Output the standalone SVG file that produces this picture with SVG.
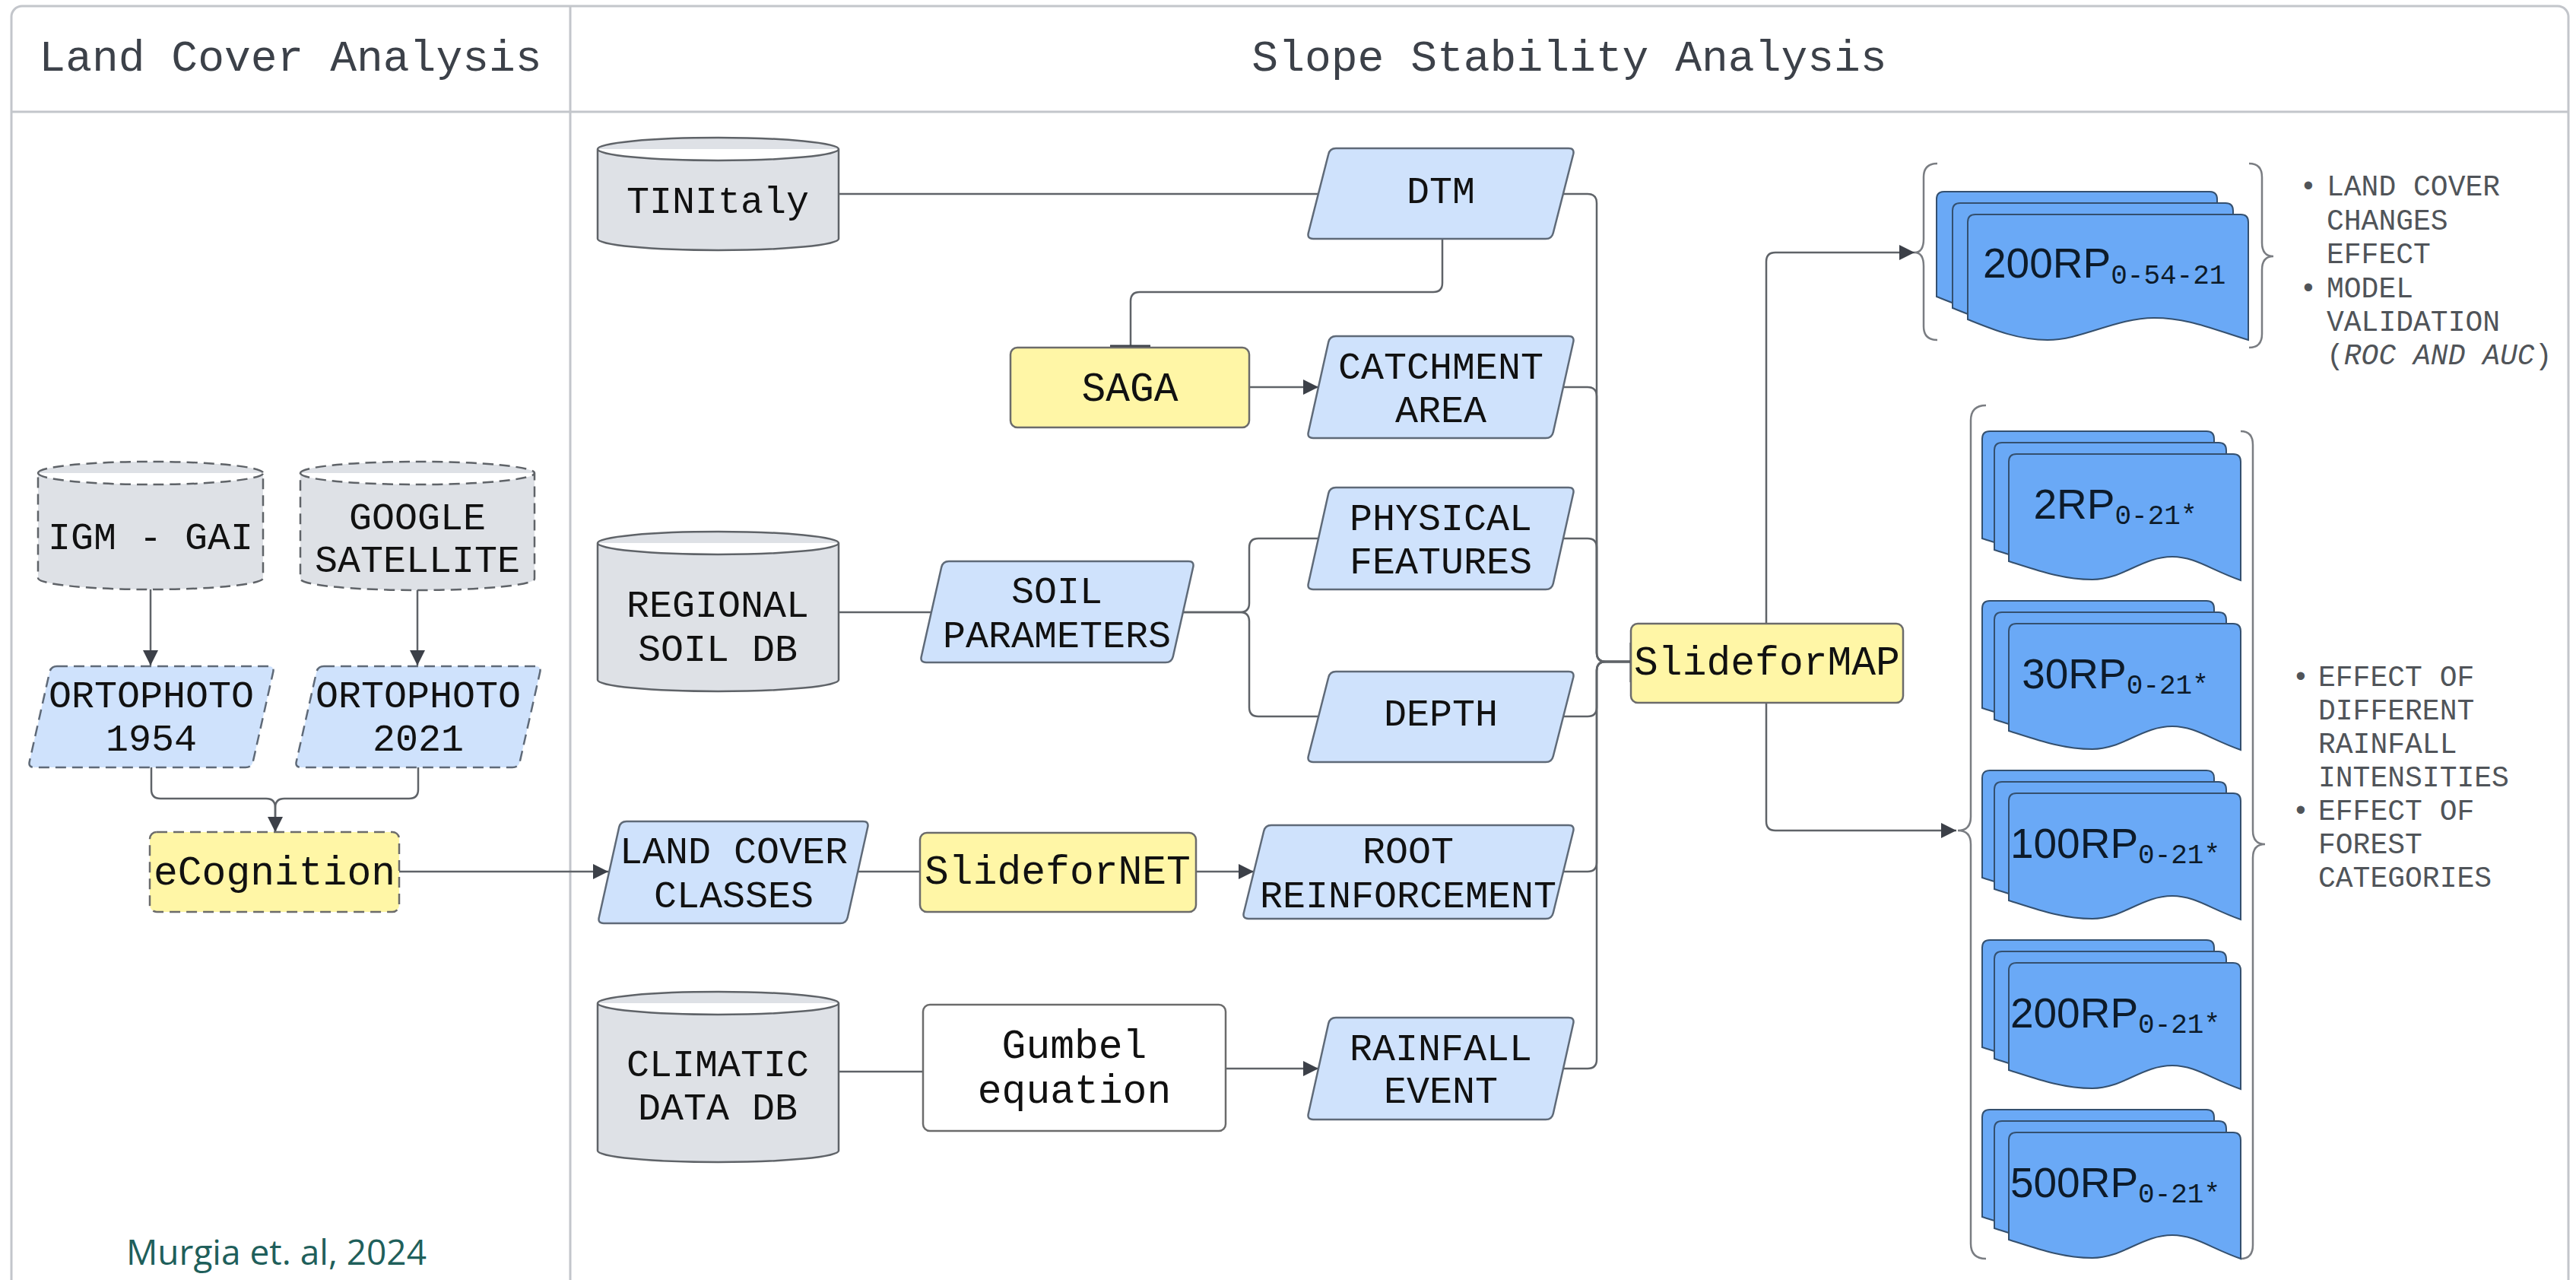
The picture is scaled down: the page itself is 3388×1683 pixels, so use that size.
<svg xmlns="http://www.w3.org/2000/svg" xmlns:xlink="http://www.w3.org/1999/xlink" width="3388" height="1683" viewBox="0 0 3388 1683">
<style>
.frame{fill:none;stroke:#c3c6cb;stroke-width:3}
.cyl{fill:#dee1e6;stroke:#5f6368;stroke-width:2.5}
.para{fill:#cfe2fc;stroke:#5f6a78;stroke-width:2.5}
.proc{fill:#fff6a6;stroke:#6b6b6b;stroke-width:2.5}
.wbox{fill:#ffffff;stroke:#6b6b6b;stroke-width:2.5}
.dash{stroke-dasharray:14 8}
.doc{fill:#6aa9f6;stroke:#34506f;stroke-width:2}
.brace{fill:none;stroke:#7a7d82;stroke-width:2.5}
.conn{fill:none;stroke:#5f6368;stroke-width:2.5}
.arr{marker-end:url(#ah)}
.bar{stroke:#3c4048;stroke-width:5}
.t{font-family:"Liberation Mono","DejaVu Sans Mono",monospace;font-size:50px;fill:#111;text-anchor:middle}
.tp{font-size:53px}
.hdr{font-family:"Liberation Mono","DejaVu Sans Mono",monospace;font-size:58px;fill:#3c4149;text-anchor:middle}
.bul{font-family:"Liberation Mono","DejaVu Sans Mono",monospace;font-size:38px;fill:#505459}
.dt{font-family:"Liberation Sans",Arial,sans-serif;font-size:55px;fill:#0d1b2a}
.sub{font-family:"Liberation Mono","DejaVu Sans Mono",monospace;font-size:36px}
.cite{font-family:"Open Sans","Noto Sans",sans-serif;font-size:46px;fill:#1f5f5b}
</style>
<defs>
<marker id="ah" viewBox="0 0 10 10" refX="10" refY="5" markerWidth="26" markerHeight="20" markerUnits="userSpaceOnUse" orient="auto"><path d="M0,0 L10,5 L0,10 z" fill="#3c4048"/></marker>
<path id="docA" d="M0,10 Q0,0 10,0 H359 Q369,0 369,10 V165 C320,150 290,136 245,136 C195,136 150,165 105,165 C65,165 30,150 0,138 Z"/>
<path id="docB" d="M0,10 Q0,0 10,0 H295 Q305,0 305,10 V166 C265,152 245,135 215,135 C175,135 150,165 110,165 C70,165 35,152 0,141 Z"/>
</defs>

<g id="frame">
<rect class="frame" x="15" y="8" width="3363" height="1720" rx="14"/>
<path class="frame" d="M15,147 H3378 M750,8 V1683"/>
<text class="hdr" x="382" y="93">Land Cover Analysis</text>
<text class="hdr" x="2064" y="93">Slope Stability Analysis</text>
</g>

<g id="connectors">
<path class="conn arr" d="M198,775 V875"/>
<path class="conn arr" d="M549,776 V875"/>
<path class="conn" d="M199,1009 V1038 Q199,1050 211,1050 H350 Q362,1050 362,1062 V1093"/>
<path class="conn arr" d="M550,1009 V1038 Q550,1050 538,1050 H374 Q362,1050 362,1062 V1094"/>
<path class="conn arr" d="M525,1146 H800"/>
<path class="conn" d="M1103,255 H1734"/>
<path class="conn" d="M1897,314 V372 Q1897,384 1885,384 H1499 Q1487,384 1487,396 V457"/>
<line class="bar" x1="1460" y1="456" x2="1513" y2="456"/>
<path class="conn arr" d="M1643,509 H1734"/>
<path class="conn" d="M1103,805 H1226"/>
<path class="conn" d="M1556,805 H1631 Q1643,805 1643,793 V720 Q1643,708 1655,708 H1734"/>
<path class="conn" d="M1556,805 H1631 Q1643,805 1643,817 V930 Q1643,942 1655,942 H1734"/>
<path class="conn" d="M1128,1146 H1210"/>
<path class="conn arr" d="M1573,1146 H1649"/>
<path class="conn" d="M1103,1409 H1214"/>
<path class="conn arr" d="M1612,1405 H1734"/>
<path class="conn" d="M2056,255 H2088 Q2100,255 2100,267 V858 Q2100,870 2112,870 H2145"/>
<path class="conn" d="M2056,509 H2088 Q2100,509 2100,521 V858 Q2100,870 2112,870 H2145"/>
<path class="conn" d="M2056,708 H2088 Q2100,708 2100,720 V858 Q2100,870 2112,870 H2145"/>
<path class="conn" d="M2056,942 H2088 Q2100,942 2100,930 V882 Q2100,870 2112,870 H2145"/>
<path class="conn" d="M2056,1146 H2088 Q2100,1146 2100,1134 V882 Q2100,870 2112,870 H2145"/>
<path class="conn" d="M2056,1405 H2088 Q2100,1405 2100,1393 V882 Q2100,870 2112,870 H2145"/>
<line class="bar" x1="2146" y1="845" x2="2146" y2="897"/>
<path class="conn arr" d="M2323,820 V344 Q2323,332 2335,332 H2518"/>
<path class="conn arr" d="M2323,924 V1080 Q2323,1092 2335,1092 H2573"/>
</g>

<g id="igm">
<path class="cyl dash" d="M50,622 A148,15 0 0 1 346,622 V760 A148,15 0 0 1 50,760 Z M50,622 A148,15 0 0 0 346,622"/>
<text class="t" x="198" y="722">IGM - GAI</text>
</g>
<g id="google">
<path class="cyl dash" d="M395,622 A154,15 0 0 1 703,622 V761 A154,15 0 0 1 395,761 Z M395,622 A154,15 0 0 0 703,622"/>
<text class="t" x="549" y="696">GOOGLE</text>
<text class="t" x="549" y="752">SATELLITE</text>
</g>
<g id="orto1954">
<path class="para dash" d="M75,876 h278 q8,0 6.2,7.8 l-26.4,117.4 q-1.8,7.8 -9.8,7.8 h-278 q-8,0 -6.2,-7.8 l26.4,-117.4 q1.8,-7.8 9.8,-7.8 z"/>
<text class="t" x="199" y="930">ORTOPHOTO</text>
<text class="t" x="199" y="987">1954</text>
</g>
<g id="orto2021">
<path class="para dash" d="M426,876 h278 q8,0 6.2,7.8 l-26.4,117.4 q-1.8,7.8 -9.8,7.8 h-278 q-8,0 -6.2,-7.8 l26.4,-117.4 q1.8,-7.8 9.8,-7.8 z"/>
<text class="t" x="550" y="930">ORTOPHOTO</text>
<text class="t" x="550" y="987">2021</text>
</g>
<g id="ecognition">
<rect class="proc dash" x="197" y="1094" width="328" height="105" rx="9"/>
<text class="t tp" x="361" y="1163">eCognition</text>
</g>

<g id="tinitaly">
<path class="cyl" d="M786,196 A158.5,15 0 0 1 1103,196 V314 A158.5,15 0 0 1 786,314 Z M786,196 A158.5,15 0 0 0 1103,196"/>
<text class="t" x="944" y="280">TINItaly</text>
</g>
<g id="dtm">
<path class="para" d="M1757,195 h306 q8,0 6.2,7.8 l-26.4,103.4 q-1.8,7.8 -9.8,7.8 h-306 q-8,0 -6.2,-7.8 l26.4,-103.4 q1.8,-7.8 9.8,-7.8 z"/>
<text class="t" x="1895" y="267">DTM</text>
</g>
<g id="saga">
<rect class="proc" x="1329" y="457" width="314" height="105" rx="9"/>
<text class="t tp" x="1486" y="527">SAGA</text>
</g>
<g id="catchment">
<path class="para" d="M1757,442 h306 q8,0 6.2,7.8 l-26.4,118.4 q-1.8,7.8 -9.8,7.8 h-306 q-8,0 -6.2,-7.8 l26.4,-118.4 q1.8,-7.8 9.8,-7.8 z"/>
<text class="t" x="1895" y="498">CATCHMENT</text>
<text class="t" x="1895" y="555">AREA</text>
</g>
<g id="physical">
<path class="para" d="M1757,641 h306 q8,0 6.2,7.8 l-26.4,118.4 q-1.8,7.8 -9.8,7.8 h-306 q-8,0 -6.2,-7.8 l26.4,-118.4 q1.8,-7.8 9.8,-7.8 z"/>
<text class="t" x="1895" y="697">PHYSICAL</text>
<text class="t" x="1895" y="754">FEATURES</text>
</g>
<g id="regional">
<path class="cyl" d="M786,714 A158.5,15 0 0 1 1103,714 V894 A158.5,15 0 0 1 786,894 Z M786,714 A158.5,15 0 0 0 1103,714"/>
<text class="t" x="944" y="811">REGIONAL</text>
<text class="t" x="944" y="869">SOIL DB</text>
</g>
<g id="soilparams">
<path class="para" d="M1248,738 h315 q8,0 6.2,7.8 l-26.4,117.4 q-1.8,7.8 -9.8,7.8 h-315 q-8,0 -6.2,-7.8 l26.4,-117.4 q1.8,-7.8 9.8,-7.8 z"/>
<text class="t" x="1390" y="793">SOIL</text>
<text class="t" x="1390" y="851">PARAMETERS</text>
</g>
<g id="depth">
<path class="para" d="M1757,883 h306 q8,0 6.2,7.8 l-26.4,103.4 q-1.8,7.8 -9.8,7.8 h-306 q-8,0 -6.2,-7.8 l26.4,-103.4 q1.8,-7.8 9.8,-7.8 z"/>
<text class="t" x="1895" y="954">DEPTH</text>
</g>
<g id="landcover">
<path class="para" d="M824,1080 h311 q8,0 6.2,7.8 l-26.4,118.4 q-1.8,7.8 -9.8,7.8 h-311 q-8,0 -6.2,-7.8 l26.4,-118.4 q1.8,-7.8 9.8,-7.8 z"/>
<text class="t" x="965" y="1135">LAND COVER</text>
<text class="t" x="965" y="1193">CLASSES</text>
</g>
<g id="slidefornet">
<rect class="proc" x="1210" y="1095" width="363" height="104" rx="9"/>
<text class="t tp" x="1391" y="1162">SlideforNET</text>
</g>
<g id="root">
<path class="para" d="M1672,1085 h391 q8,0 6.2,7.8 l-26.4,107.4 q-1.8,7.8 -9.8,7.8 h-391 q-8,0 -6.2,-7.8 l26.4,-107.4 q1.8,-7.8 9.8,-7.8 z"/>
<text class="t" x="1852" y="1135">ROOT</text>
<text class="t" x="1852" y="1193">REINFORCEMENT</text>
</g>
<g id="climatic">
<path class="cyl" d="M786,1319 A158.5,15 0 0 1 1103,1319 V1513 A158.5,15 0 0 1 786,1513 Z M786,1319 A158.5,15 0 0 0 1103,1319"/>
<text class="t" x="944" y="1415">CLIMATIC</text>
<text class="t" x="944" y="1472">DATA DB</text>
</g>
<g id="gumbel">
<rect class="wbox" x="1214" y="1321" width="398" height="166" rx="9"/>
<text class="t tp" x="1413" y="1391">Gumbel</text>
<text class="t tp" x="1413" y="1450">equation</text>
</g>
<g id="rainfall">
<path class="para" d="M1757,1338 h306 q8,0 6.2,7.8 l-26.4,118.4 q-1.8,7.8 -9.8,7.8 h-306 q-8,0 -6.2,-7.8 l26.4,-118.4 q1.8,-7.8 9.8,-7.8 z"/>
<text class="t" x="1895" y="1394">RAINFALL</text>
<text class="t" x="1895" y="1450">EVENT</text>
</g>
<g id="slideformap">
<rect class="proc" x="2145" y="820" width="358" height="104" rx="9"/>
<text class="t tp" x="2324" y="887">SlideforMAP</text>
</g>

<g id="out-200rp-0-54-21">
<path class="brace" d="M2548,215 Q2530,215 2530,233 V314 Q2530,332 2518,332 Q2530,332 2530,350 V429 Q2530,447 2548,447"/>
<path class="brace" d="M2958,215 Q2975,215 2975,233 V319 Q2975,337 2990,337 Q2975,337 2975,355 V439 Q2975,457 2958,457"/>
<use href="#docA" class="doc" x="2547" y="252"/>
<use href="#docA" class="doc" x="2568" y="267"/>
<use href="#docA" class="doc" x="2588" y="282"/>
<text class="dt" x="2608" y="365">200RP<tspan class="sub" dy="8">0-54-21</tspan></text>
</g>
<g id="out-effects-1">
<text class="bul" x="3036" y="257" text-anchor="middle">•</text>
<text class="bul" x="3060" y="257">LAND COVER</text>
<text class="bul" x="3060" y="302">CHANGES</text>
<text class="bul" x="3060" y="346">EFFECT</text>
<text class="bul" x="3036" y="391" text-anchor="middle">•</text>
<text class="bul" x="3060" y="391">MODEL</text>
<text class="bul" x="3060" y="435">VALIDATION</text>
<text class="bul" x="3060" y="479">(<tspan font-style="italic">ROC AND AUC</tspan>)</text>
</g>

<g id="out-rp-group">
<path class="brace" d="M2612,533 Q2592,533 2592,553 V1074 Q2592,1092 2575,1092 Q2592,1092 2592,1110 V1635 Q2592,1655 2612,1655"/>
<path class="brace" d="M2947,567 Q2963,567 2963,585 V1092 Q2963,1110 2979,1110 Q2963,1110 2963,1128 V1637 Q2963,1655 2947,1655"/>
</g>
<g id="out-2rp">
<use href="#docB" class="doc" x="2607" y="567"/>
<use href="#docB" class="doc" x="2623" y="582"/>
<use href="#docB" class="doc" x="2642" y="597"/>
<text class="dt" x="2782" y="682" text-anchor="middle">2RP<tspan class="sub" dy="7">0-21*</tspan></text>
</g>
<g id="out-30rp">
<use href="#docB" class="doc" x="2607" y="790"/>
<use href="#docB" class="doc" x="2623" y="805"/>
<use href="#docB" class="doc" x="2642" y="820"/>
<text class="dt" x="2782" y="905" text-anchor="middle">30RP<tspan class="sub" dy="7">0-21*</tspan></text>
</g>
<g id="out-100rp">
<use href="#docB" class="doc" x="2607" y="1013"/>
<use href="#docB" class="doc" x="2623" y="1028"/>
<use href="#docB" class="doc" x="2642" y="1043"/>
<text class="dt" x="2782" y="1128" text-anchor="middle">100RP<tspan class="sub" dy="7">0-21*</tspan></text>
</g>
<g id="out-200rp">
<use href="#docB" class="doc" x="2607" y="1236"/>
<use href="#docB" class="doc" x="2623" y="1251"/>
<use href="#docB" class="doc" x="2642" y="1266"/>
<text class="dt" x="2782" y="1351" text-anchor="middle">200RP<tspan class="sub" dy="7">0-21*</tspan></text>
</g>
<g id="out-500rp">
<use href="#docB" class="doc" x="2607" y="1459"/>
<use href="#docB" class="doc" x="2623" y="1474"/>
<use href="#docB" class="doc" x="2642" y="1489"/>
<text class="dt" x="2782" y="1574" text-anchor="middle">500RP<tspan class="sub" dy="7">0-21*</tspan></text>
</g>
<g id="out-effects-2">
<text class="bul" x="3026" y="902" text-anchor="middle">•</text>
<text class="bul" x="3049" y="902">EFFECT OF</text>
<text class="bul" x="3049" y="946">DIFFERENT</text>
<text class="bul" x="3049" y="990">RAINFALL</text>
<text class="bul" x="3049" y="1034">INTENSITIES</text>
<text class="bul" x="3026" y="1078" text-anchor="middle">•</text>
<text class="bul" x="3049" y="1078">EFFECT OF</text>
<text class="bul" x="3049" y="1122">FOREST</text>
<text class="bul" x="3049" y="1166">CATEGORIES</text>
</g>

<g id="citation">
<text class="cite" x="166" y="1663">Murgia et. al, 2024</text>
</g>
</svg>
